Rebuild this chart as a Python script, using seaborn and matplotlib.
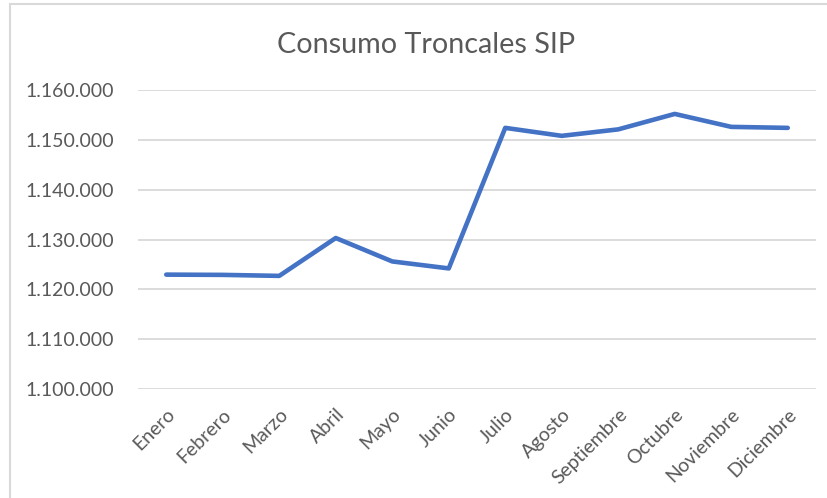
import matplotlib

matplotlib.use("Agg")
import matplotlib.pyplot as plt
import pandas as pd
import seaborn as sns
from matplotlib.lines import Line2D
from matplotlib.ticker import FuncFormatter, MultipleLocator

# ---------------------------------------------------------------------------
# Data
# ---------------------------------------------------------------------------
months = [
    "Enero", "Febrero", "Marzo", "Abril", "Mayo", "Junio",
    "Julio", "Agosto", "Septiembre", "Octubre", "Noviembre", "Diciembre",
]
consumo = [
    1122950, 1122900, 1122700, 1130300, 1125600, 1124200,
    1152400, 1150800, 1152100, 1155200, 1152600, 1152400,
]
title = "Consumo Troncales SIP"

TEXT_GREY = "#595959"
GRID_GREY = "#D9D9D9"
LINE_BLUE = "#4472C4"

sns.set_theme(style="white")
plt.rcParams["font.family"] = ["Lato", "DejaVu Sans"]

df = pd.DataFrame({"mes": months, "consumo": consumo})

fig = plt.figure(figsize=(8.27, 4.98), dpi=100)
ax = fig.add_axes([138 / 827, 1 - 389 / 498, (816 - 138) / 827, (389 - 90) / 498])

sns.lineplot(
    data=df, x="mes", y="consumo", ax=ax, color=LINE_BLUE,
    linewidth=3.3, solid_capstyle="round", solid_joinstyle="round", sort=False,
)

ax.set_xlim(-0.5, len(months) - 0.5)
ax.set_ylim(1100000, 1160000)
ax.yaxis.set_major_locator(MultipleLocator(10000))
ax.yaxis.set_major_formatter(FuncFormatter(lambda v, _: f"{v:,.0f}".replace(",", ".")))

ax.grid(axis="y", color=GRID_GREY, linewidth=1.3)
ax.set_axisbelow(True)
for side in ax.spines.values():
    side.set_visible(False)

ax.set_xlabel("")
ax.set_ylabel("")
ax.tick_params(axis="both", length=0, labelsize=14, colors=TEXT_GREY)
ax.tick_params(axis="y", pad=17)
ax.tick_params(axis="x", pad=12)
plt.setp(ax.get_xticklabels(), rotation=45, ha="right", rotation_mode="anchor")

fig.text(426 / 827, 1 - 53 / 498, title, ha="center", va="baseline",
         fontsize=20.7, color=TEXT_GREY)

# light chart-area frame visible at the top and left edges
fig.add_artist(Line2D([10 / 827, 1], [1 - 4 / 498, 1 - 4 / 498],
                      transform=fig.transFigure, color=GRID_GREY, linewidth=1.5))
fig.add_artist(Line2D([10 / 827, 10 / 827], [0, 1 - 4 / 498],
                      transform=fig.transFigure, color=GRID_GREY, linewidth=1.5))

fig.savefig("out.png", dpi=100, facecolor="white")
